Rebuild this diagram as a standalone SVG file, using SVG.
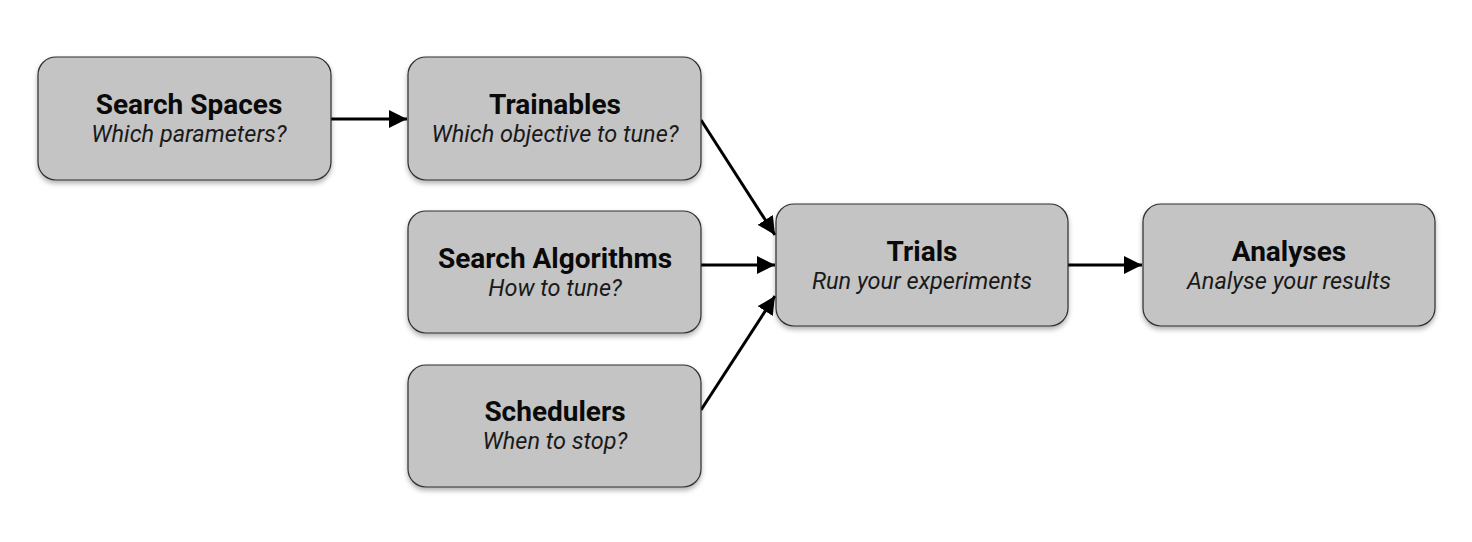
<svg xmlns="http://www.w3.org/2000/svg" width="1472" height="542" viewBox="0 0 1472 542">
<style>
.box{fill:#c4c4c4;stroke:#2e2e2e;stroke-width:1.2;filter:url(#sh)}
.t{font-family:Roboto,"Liberation Sans",sans-serif;font-weight:bold;font-size:28px;fill:#0a0a0a;text-anchor:middle}
.s{font-family:Roboto,"Liberation Sans",sans-serif;font-style:italic;font-size:23.5px;fill:#1a1a1a;text-anchor:middle}
.c{stroke:#000;stroke-width:3;fill:none;marker-end:url(#ah)}
</style>
<defs>
<filter id="sh" x="-10%" y="-10%" width="120%" height="130%">
<feDropShadow dx="0" dy="3" stdDeviation="2.5" flood-color="#000" flood-opacity="0.3"/>
</filter>
<marker id="ah" markerWidth="6" markerHeight="6" refX="6" refY="3" orient="auto" markerUnits="strokeWidth">
<path d="M0,0 L6,3 L0,6 Z" fill="#000"/>
</marker>
</defs>
<rect width="1472" height="542" fill="#fff"/>
<g id="connectors">
<line class="c" x1="331" y1="119" x2="407" y2="119"/>
<line class="c" x1="701" y1="120" x2="775" y2="235"/>
<line class="c" x1="701" y1="265" x2="775" y2="265"/>
<line class="c" x1="701" y1="410" x2="775" y2="296"/>
<line class="c" x1="1068" y1="265" x2="1142" y2="265"/>
</g>
<g id="search-spaces">
<rect class="box" x="38" y="57" width="293" height="123" rx="18"/>
<text class="t" x="189" y="114">Search Spaces</text>
<text class="s" x="189" y="142">Which parameters?</text>
</g>
<g id="trainables">
<rect class="box" x="408" y="57" width="293" height="123" rx="18"/>
<text class="t" x="555" y="114">Trainables</text>
<text class="s" x="555" y="142">Which objective to tune?</text>
</g>
<g id="search-algorithms">
<rect class="box" x="408" y="211" width="293" height="122" rx="18"/>
<text class="t" x="555" y="268">Search Algorithms</text>
<text class="s" x="555" y="296">How to tune?</text>
</g>
<g id="schedulers">
<rect class="box" x="408" y="365" width="293" height="122" rx="18"/>
<text class="t" x="555" y="421">Schedulers</text>
<text class="s" x="555" y="449">When to stop?</text>
</g>
<g id="trials">
<rect class="box" x="776" y="204" width="292" height="122" rx="18"/>
<text class="t" x="922" y="261">Trials</text>
<text class="s" x="922" y="289">Run your experiments</text>
</g>
<g id="analyses">
<rect class="box" x="1143" y="204" width="292" height="122" rx="18"/>
<text class="t" x="1289" y="261">Analyses</text>
<text class="s" x="1289" y="289">Analyse your results</text>
</g>
</svg>
